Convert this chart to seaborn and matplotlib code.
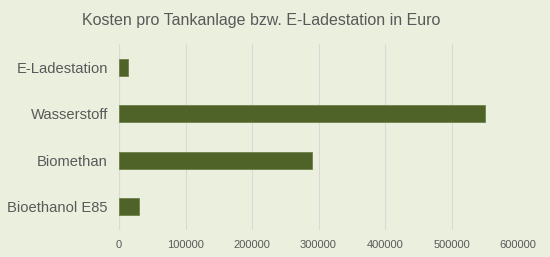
import matplotlib
matplotlib.use("Agg")
import matplotlib.pyplot as plt
import seaborn as sns
import pandas as pd

categories = ["E-Ladestation", "Wasserstoff", "Biomethan", "Bioethanol E85"]
values = [14000, 550000, 290000, 30000]
xticks = [0, 100000, 200000, 300000, 400000, 500000, 600000]

bg = "#EBF0DE"
bar_color = "#4F6228"
text_color = "#595959"

sns.set_theme(style="whitegrid")
plt.rcParams['font.family'] = ['Liberation Sans', 'DejaVu Sans']

df = pd.DataFrame({"cat": categories, "val": values})

fig = plt.figure(figsize=(5.5, 2.57), dpi=100, facecolor=bg)
ax = fig.add_axes([119/550, 1-230/257, (518-119)/550, (230-44)/257])
ax.set_facecolor(bg)

sns.barplot(data=df, x="val", y="cat", order=categories, color=bar_color,
            width=0.36, saturation=1, edgecolor="#6E7F4A", linewidth=0.6, ax=ax)

ax.set_xlim(0, 600000)
ax.set_ylim(3.5, -0.5)
ax.set_xticks(xticks)
ax.set_xticklabels([str(t) for t in xticks], fontsize=8, color=text_color)
ax.tick_params(axis='y', labelsize=10.6, colors=text_color, length=0, pad=8)
ax.tick_params(axis='x', length=0, pad=7)
ax.set_xlabel("")
ax.set_ylabel("")
ax.grid(axis='x', color="#D9D9D9", linewidth=0.8)
ax.grid(axis='y', visible=False)
for s in ax.spines.values():
    s.set_visible(False)
ax.axvline(0, color="#D9D9D9", linewidth=0.8, zorder=0)

fig.text(261/550, 1-20/257, "Kosten pro Tankanlage bzw. E-Ladestation in Euro",
         ha="center", va="center", fontsize=11.5, color=text_color)

fig.savefig("out.png", dpi=100, facecolor=bg)
